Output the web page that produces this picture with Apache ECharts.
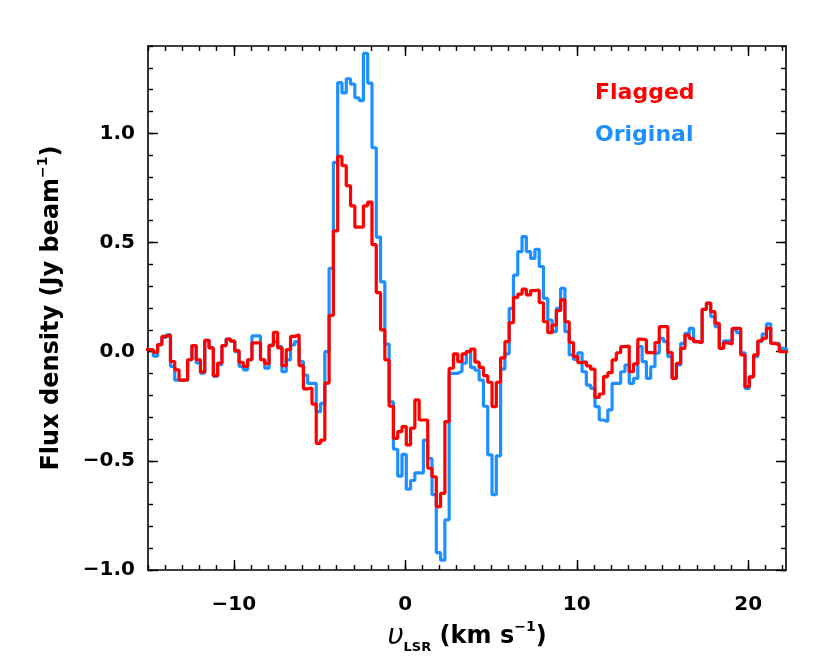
<!DOCTYPE html>
<html><head><meta charset="utf-8">
<script src="https://cdn.jsdelivr.net/npm/echarts@6/dist/echarts.min.js"></script>
<style>html,body{margin:0;padding:0;background:#fff}#c{width:830px;height:664px}</style>
</head><body><div id="c"></div>
<script>
const seriesNames = ['Flagged', 'Original'];
// channel grid: left edge of first channel (km/s) and channel width (km/s)
const v0 = -15.19;
const dv = 0.25;
const flagged = [
 0.01, 0.008, -0.003, 0.032, 0.07, 0.077, -0.045, -0.083, -0.13, -0.13,
 -0.037, 0.028, -0.037, -0.093, 0.052, 0.017, -0.11, -0.052, 0.028, 0.058,
 0.048, 0.005, -0.049, -0.067, -0.037, 0.04, 0.04, -0.037, -0.055, 0.028,
 0.089, 0.017, -0.064, 0.009, 0.07, 0.077, -0.064, -0.17, -0.167, -0.24,
 -0.42, -0.405, -0.144, 0.166, 0.553, 0.895, 0.852, 0.76, 0.668, 0.57,
 0.57, 0.668, 0.685, 0.49, 0.27, 0.1, -0.038, -0.25, -0.397, -0.366,
 -0.343, -0.427, -0.35, -0.221, -0.313, -0.313, -0.534, -0.573, -0.71, -0.649,
 -0.32, -0.076, -0.01, -0.046, -0.01, 0.0, 0.012, -0.048, -0.072, -0.11,
 -0.14, -0.252, -0.14, -0.028, 0.046, 0.133, 0.249, 0.264, 0.286, 0.26,
 0.28, 0.282, 0.224, 0.137, 0.087, 0.122, 0.188, 0.237, 0.137, 0.042,
 -0.023, -0.05, -0.046, -0.065, -0.08, -0.21, -0.194, -0.114, -0.096, -0.038,
 -0.005, 0.023, 0.026, -0.092, -0.056, 0.057, 0.054, -0.004, -0.007, 0.042,
 0.115, 0.115, -0.004, -0.122, -0.053, 0.015, 0.076, 0.06, 0.046, 0.041,
 0.194, 0.222, 0.183, 0.13, 0.015, 0.04, 0.035, 0.107, 0.107, -0.015,
 -0.16, -0.115, -0.015, 0.05, 0.061, 0.107, 0.038, 0.031, 0.0, 0.0
];
const original = [
 0.01, 0.008, -0.021, 0.032, 0.065, 0.077, -0.067, -0.13, -0.13, -0.13,
 -0.037, 0.028, -0.052, -0.098, 0.052, 0.017, -0.113, -0.06, 0.028, 0.058,
 0.048, 0.0, -0.067, -0.083, -0.037, 0.072, 0.072, -0.037, -0.076, 0.03,
 0.046, 0.023, -0.092, -0.038, 0.031, 0.046, -0.046, -0.107, -0.145, -0.145,
 -0.275, -0.237, 0.0, 0.382, 0.867, 1.232, 1.185, 1.25, 1.225, 1.163,
 1.15, 1.366, 1.23, 0.934, 0.525, 0.32, 0.035, -0.23, -0.447, -0.57,
 -0.47, -0.63, -0.59, -0.555, -0.555, -0.405, -0.49, -0.655, -0.92, -0.955,
 -0.77, -0.099, -0.099, -0.09, -0.053, 0.002, -0.072, -0.085, -0.13, -0.25,
 -0.473, -0.655, -0.477, -0.08, -0.01, 0.198, 0.351, 0.458, 0.527, 0.458,
 0.427, 0.469, 0.39, 0.244, 0.145, 0.092, 0.198, 0.29, 0.092, -0.015,
 -0.035, -0.005, -0.092, -0.153, -0.168, -0.252, -0.313, -0.32, -0.267, -0.145,
 -0.145, -0.092, -0.061, -0.145, -0.122, 0.023, -0.046, -0.122, -0.069, -0.007,
 0.061, 0.046, -0.023, -0.122, -0.061, 0.038, 0.084, 0.107, 0.046, 0.041,
 0.194, 0.222, 0.16, 0.115, 0.015, 0.05, 0.05, 0.1, 0.087, -0.005,
 -0.168, -0.115, -0.023, 0.046, 0.081, 0.127, 0.038, 0.038, 0.015, 0.01
];
const xMajor = [-10, 0, 10, 20];
const xMinor = [-15,-14,-13,-12,-11,-10,-9,-8,-7,-6,-5,-4,-3,-2,-1,0,1,2,3,4,5,6,7,8,9,10,11,12,13,14,15,16,17,18,19,20,21,22];
const yMajor = [-1.0, -0.5, 0.0, 0.5, 1.0];
const yMinor = [-1.0,-0.9,-0.8,-0.7,-0.6,-0.5,-0.4,-0.3,-0.2,-0.1,0.0,0.1,0.2,0.3,0.4,0.5,0.6,0.7,0.8,0.9,1.0,1.1,1.2,1.3,1.4];
const xRange = [-15, 22.2];
const yRange = [-1.0, 1.4];
const colors = ['#ff0000', '#1e8fff'];

const FONT = 'DejaVu Sans';
function steps(vals) {
  const d = vals.map((y, i) => [v0 + dv * i, y]);
  d.push([v0 + dv * vals.length, vals[vals.length - 1]]);
  return d;
}
const minus = s => String(s).replace('-', '\u2212');
const axisCol = '#000';
function xAx(pos, major, withLabel, extra) {
  return Object.assign({
    type: 'value', position: pos, min: xRange[0], max: xRange[1],
    axisLine: { show: major, onZero: false, lineStyle: { color: axisCol, width: 1.6 } },
    axisTick: { show: true, inside: true, length: major ? 10 : 5,
      customValues: major ? xMajor : xMinor, lineStyle: { color: axisCol, width: 1.4 } },
    axisLabel: withLabel ? { show: true, customValues: xMajor, formatter: v => minus(v),
      fontFamily: FONT, fontWeight: 'bold', fontSize: 20, color: '#000', margin: 25 } : { show: false },
    splitLine: { show: false }
  }, extra || {});
}
function yAx(pos, major, withLabel, extra) {
  return Object.assign({
    type: 'value', position: pos, min: yRange[0], max: yRange[1],
    axisLine: { show: major, onZero: false, lineStyle: { color: axisCol, width: 1.6 } },
    axisTick: { show: true, inside: true, length: major ? 10 : 5,
      customValues: major ? yMajor : yMinor, lineStyle: { color: axisCol, width: 1.4 } },
    axisLabel: withLabel ? { show: true, customValues: yMajor, formatter: v => minus(v.toFixed(1)),
      fontFamily: FONT, fontWeight: 'bold', fontSize: 20, color: '#000', margin: 13 } : { show: false },
    splitLine: { show: false }
  }, extra || {});
}
const richBase = { fontFamily: FONT, fontWeight: 'bold', color: '#000' };
const chart = echarts.init(document.getElementById('c'), null, { renderer: 'canvas' });
chart.setOption({
  animation: false,
  backgroundColor: '#fff',
  grid: { left: 148, right: 44, top: 46, bottom: 94, containLabel: false },
  xAxis: [
    xAx('bottom', true, true, {
      name: '{i|\u03c5}{sub|LSR}{n| (km s}{sup|\u22121}{n|)}',
      nameLocation: 'middle', nameGap: 41,
      nameTextStyle: { rich: {
        i: Object.assign({}, richBase, { fontSize: 28, fontStyle: 'italic', fontWeight: 'normal', lineHeight: 34 }),
        sub: Object.assign({}, richBase, { fontSize: 13, verticalAlign: 'bottom', lineHeight: 34 }),
        n: Object.assign({}, richBase, { fontSize: 24, lineHeight: 34 }),
        sup: Object.assign({}, richBase, { fontSize: 14, verticalAlign: 'top', lineHeight: 34 })
      } }
    }),
    xAx('bottom', false, false),
    xAx('top', true, false),
    xAx('top', false, false)
  ],
  yAxis: [
    yAx('left', true, true, {
      name: '{n|Flux density (Jy beam}{sup|\u22121}{n|)}',
      nameLocation: 'middle', nameRotate: 90, nameGap: 80,
      nameTextStyle: { rich: {
        n: Object.assign({}, richBase, { fontSize: 24, lineHeight: 32 }),
        sup: Object.assign({}, richBase, { fontSize: 14, verticalAlign: 'top', lineHeight: 32 })
      } }
    }),
    yAx('left', false, false),
    yAx('right', true, false),
    yAx('right', false, false)
  ],
  series: [
    { name: seriesNames[1], type: 'line', step: 'end', data: steps(original), showSymbol: false,
      clip: true, lineStyle: { color: colors[1], width: 3.2 }, itemStyle: { color: colors[1] }, z: 2 },
    { name: seriesNames[0], type: 'line', step: 'end', data: steps(flagged), showSymbol: false,
      clip: true, lineStyle: { color: colors[0], width: 3.2 }, itemStyle: { color: colors[0] }, z: 3 }
  ],
  graphic: [
    { type: 'text', left: 595, top: 82, style: { text: seriesNames[0], fill: colors[0], font: 'bold 22px "DejaVu Sans"' } },
    { type: 'text', left: 595, top: 124, style: { text: seriesNames[1], fill: colors[1], font: 'bold 22px "DejaVu Sans"' } }
  ]
});
</script>
</body></html>
